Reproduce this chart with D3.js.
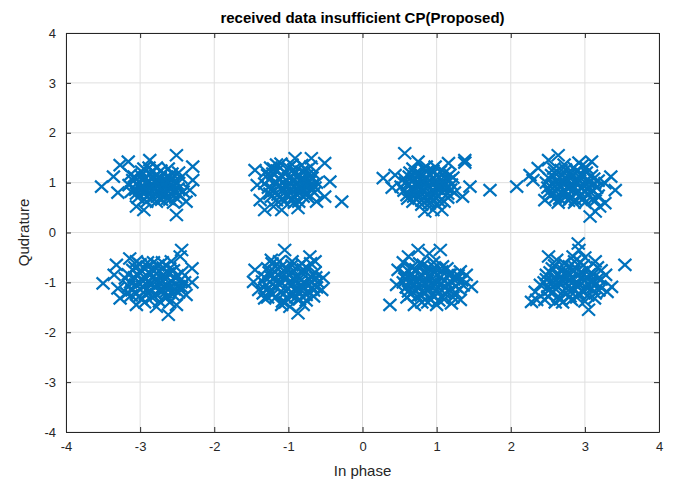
<!DOCTYPE html>
<html>
<head>
<meta charset="utf-8">
<script src="https://cdn.jsdelivr.net/npm/d3@7"></script>
<style>
  body { margin: 0; background: #fff; }
  svg { font-family: "Liberation Sans", Arial, sans-serif; }
</style>
</head>
<body>
<svg width="681" height="482"></svg>
<script>
// tick values and labels
var xTicks = [-4, -3, -2, -1, 0, 1, 2, 3, 4]
var yTicks = [-4, -3, -2, -1, 0, 1, 2, 3, 4]
var titleText = 'received data insufficient CP(Proposed)'
var xLabel = 'In phase'
var yLabel = 'Qudrature'

// received symbols, one array per constellation point
var symTopLL = [[-3.15,0.95],[-3.08,1.12],[-3.05,0.78],[-2.98,1.22],[-2.95,0.66],[-2.92,0.98],[-2.88,1.30],[-2.85,0.85],[-2.82,1.10],[-2.78,0.62],[-2.75,0.95],[-2.72,1.24],[-2.68,0.75],[-2.65,1.05],[-2.60,0.88],[-2.57,1.18],[-2.52,0.70],[-2.50,0.98],[-2.45,1.10],[-2.42,0.82],[-3.00,0.90],[-2.90,0.72],[-2.80,1.02],[-2.70,0.86],[-2.62,1.28],[-3.10,1.05],[-2.86,1.18],[-2.55,0.60],[-2.96,1.05],[-2.76,0.80],[-2.66,0.96],[-2.84,0.92],
  [-3.06,0.86],[-3.02,1.02],[-3.03,0.70],[-2.99,1.14],[-2.97,0.80],[-2.94,0.90],[-2.93,1.10],[-2.91,0.62],[-2.89,1.04],[-2.87,0.78],[-2.86,0.96],[-2.83,1.24],[-2.83,0.70],[-2.81,0.86],[-2.79,1.14],[-2.77,1.00],[-2.77,0.72],[-2.74,0.88],[-2.73,1.10],[-2.71,0.66],[-2.69,1.18],[-2.69,0.96],[-2.67,0.82],[-2.64,1.12],[-2.63,0.68],[-2.61,1.00],[-2.59,0.78],[-2.58,1.08],[-2.56,0.92],[-2.54,0.82],[-2.53,1.04],[-2.49,0.88],[-2.47,0.76],[-2.95,1.28],[-2.78,1.30],[-3.12,0.82],[-3.13,1.16],[-2.48,1.20],[-2.60,0.66],[-2.90,0.84],
  [-3.52,0.92],[-2.51,1.55],[-2.29,1.05],[-2.51,0.35],[-3.05,0.52],[-3.27,1.35],[-3.16,1.42],[-2.87,1.45],[-2.33,0.85],[-2.38,0.62],[-3.36,1.12],[-2.29,1.32],[-3.30,0.80],[-2.95,0.45]]
var symTopL = [[-1.32,0.98],[-1.28,1.15],[-1.25,0.78],[-1.20,1.28],[-1.16,0.65],[-1.12,0.95],[-1.08,1.12],[-1.05,0.80],[-1.00,1.30],[-0.98,0.98],[-0.95,0.68],[-0.92,1.18],[-0.88,0.88],[-0.85,1.05],[-0.80,0.72],[-0.76,1.25],[-0.72,0.94],[-0.68,1.10],[-0.65,0.80],[-0.62,1.00],[-1.18,1.02],[-1.02,0.90],[-0.90,0.78],[-0.82,1.35],[-1.10,1.38],[-0.70,1.32],[-1.22,0.88],[-0.96,1.12],[-0.86,0.62],[-1.30,1.22],[-0.78,0.95],
  [-1.27,0.90],[-1.26,1.06],[-1.23,0.72],[-1.21,1.18],[-1.19,0.84],[-1.17,0.98],[-1.15,1.24],[-1.14,0.76],[-1.12,1.08],[-1.10,0.88],[-1.08,0.68],[-1.07,1.00],[-1.04,1.20],[-1.03,0.94],[-1.01,0.74],[-0.99,1.10],[-0.97,0.86],[-0.94,1.02],[-0.93,1.26],[-0.91,0.70],[-0.89,0.96],[-0.87,1.14],[-0.86,0.80],[-0.83,0.92],[-0.82,1.22],[-0.80,0.86],[-0.78,1.06],[-0.76,0.78],[-0.74,1.16],[-0.73,0.70],[-0.71,1.02],[-0.69,0.86],[-0.67,0.96],[-0.66,1.18],[-0.64,0.90],[-1.16,1.36],[-0.95,1.36],[-1.24,1.30],[-0.92,0.60],[-1.06,0.62],
  [-0.28,0.62],[-0.51,1.39],[-0.44,1.02],[-0.51,0.72],[-1.32,0.45],[-1.09,0.45],[-0.87,0.49],[-1.45,1.25],[-1.38,0.65],[-0.69,1.49],[-0.91,1.49],[-0.62,0.62],[-1.42,0.95],[-1.20,0.52]]
var symTopR = [[0.52,0.92],[0.56,1.08],[0.60,0.75],[0.64,1.20],[0.68,0.62],[0.72,0.95],[0.75,1.12],[0.78,0.80],[0.82,1.28],[0.85,0.98],[0.88,0.66],[0.92,1.15],[0.95,0.86],[0.98,1.04],[1.02,0.72],[1.05,1.22],[1.08,0.92],[1.12,1.08],[1.15,0.78],[1.20,0.96],[0.70,0.85],[0.90,0.58],[1.00,0.88],[0.80,1.02],[1.10,0.62],[0.62,0.98],[0.86,1.32],[1.18,1.16],[0.94,0.76],[0.76,0.70],
  [0.56,0.84],[0.58,1.00],[0.61,0.68],[0.63,1.12],[0.65,0.88],[0.67,1.02],[0.69,0.72],[0.71,1.18],[0.73,0.80],[0.74,1.02],[0.77,0.92],[0.79,1.16],[0.80,0.64],[0.82,0.86],[0.84,1.06],[0.86,0.76],[0.87,1.22],[0.89,0.92],[0.91,1.04],[0.93,0.70],[0.95,1.24],[0.96,0.96],[0.99,0.78],[1.00,1.14],[1.02,0.94],[1.04,0.62],[1.06,1.06],[1.07,0.82],[1.10,1.00],[1.11,1.20],[1.13,0.90],[1.15,0.70],[1.17,1.04],[1.19,0.86],[1.22,1.10],[0.68,1.28],[0.98,1.32],[1.00,0.56],[0.80,0.56],[1.24,0.80],
  [0.57,1.59],[0.28,1.09],[1.38,1.45],[1.38,1.40],[1.72,0.85],[1.45,0.92],[0.44,1.15],[0.84,0.42],[1.07,0.45],[1.16,1.39],[0.75,1.42],[0.40,0.90],[1.35,0.72],[0.95,0.45]]
var symTopRR = [[2.48,1.00],[2.52,0.82],[2.55,1.15],[2.60,0.70],[2.64,0.98],[2.68,1.25],[2.72,0.85],[2.75,1.08],[2.78,0.64],[2.82,0.94],[2.85,1.30],[2.88,0.78],[2.92,1.12],[2.95,0.90],[2.98,0.68],[3.02,1.20],[3.05,1.00],[3.08,0.80],[3.12,1.08],[3.16,0.90],[2.70,1.05],[2.80,1.18],[2.90,1.00],[3.00,0.84],[2.62,0.88],[2.86,0.60],[3.10,0.66],[2.58,1.28],[2.96,1.34],[2.76,0.74],
  [2.50,0.90],[2.52,1.08],[2.54,0.74],[2.57,0.96],[2.59,1.20],[2.61,0.82],[2.63,1.06],[2.66,0.68],[2.66,0.92],[2.69,1.14],[2.71,0.78],[2.72,0.98],[2.74,1.26],[2.77,0.88],[2.78,1.04],[2.80,0.70],[2.82,1.12],[2.84,0.86],[2.85,1.02],[2.87,0.66],[2.89,1.22],[2.91,0.84],[2.93,1.04],[2.94,0.74],[2.97,1.16],[2.99,0.94],[3.00,0.60],[3.03,1.06],[3.04,0.76],[3.06,0.90],[3.09,1.14],[3.11,0.84],[3.13,0.98],[3.14,0.64],[3.18,1.04],[2.72,1.36],[2.92,1.40],[2.64,0.60],[3.18,0.74],[3.02,1.30],
  [2.08,0.92],[2.26,1.15],[2.64,1.55],[3.09,1.42],[3.41,0.85],[3.27,0.59],[3.14,0.42],[3.07,0.32],[2.51,1.45],[2.37,1.29],[2.46,0.65],[3.27,0.99],[3.35,1.12],[2.30,1.05],[3.20,0.52]]
var symBotLL = [[-3.20,-0.92],[-3.15,-1.08],[-3.10,-0.75],[-3.05,-1.22],[-3.00,-0.64],[-2.96,-0.98],[-2.92,-1.15],[-2.88,-0.80],[-2.84,-1.30],[-2.80,-0.95],[-2.76,-0.66],[-2.72,-1.12],[-2.68,-0.85],[-2.64,-1.05],[-2.60,-0.72],[-2.56,-1.24],[-2.52,-0.92],[-2.48,-1.08],[-2.44,-0.80],[-2.40,-1.00],[-3.08,-0.90],[-2.98,-1.34],[-2.86,-1.02],[-2.74,-1.38],[-2.70,-0.60],[-2.90,-0.68],[-3.12,-1.26],[-2.58,-0.58],[-2.78,-0.82],[-2.66,-1.20],
  [-3.16,-0.84],[-3.13,-1.00],[-3.11,-1.16],[-3.07,-0.70],[-3.06,-1.04],[-3.03,-0.86],[-3.01,-1.28],[-2.99,-0.76],[-2.97,-1.08],[-2.94,-0.90],[-2.93,-1.24],[-2.90,-0.60],[-2.89,-1.00],[-2.86,-1.18],[-2.84,-0.74],[-2.82,-0.88],[-2.81,-1.08],[-2.78,-1.24],[-2.77,-0.96],[-2.74,-0.78],[-2.73,-1.02],[-2.70,-1.18],[-2.69,-0.70],[-2.66,-0.94],[-2.64,-1.30],[-2.62,-0.82],[-2.61,-1.12],[-2.58,-0.98],[-2.55,-0.76],[-2.54,-1.14],[-2.50,-0.86],[-2.48,-1.20],[-2.46,-0.96],[-2.82,-0.60],[-2.94,-1.40],[-2.60,-1.40],[-3.18,-1.22],[-2.44,-1.10],[-3.05,-0.58],[-2.86,-0.84],
  [-2.44,-0.35],[-2.46,-0.48],[-3.50,-1.02],[-2.30,-0.72],[-2.62,-1.65],[-2.78,-1.49],[-3.05,-1.45],[-3.27,-1.32],[-2.38,-1.25],[-3.32,-0.65],[-3.14,-0.52],[-2.51,-1.45],[-3.35,-0.85],[-3.30,-1.12],[-2.30,-1.00]]
var symBotL = [[-1.35,-0.98],[-1.30,-1.15],[-1.26,-0.80],[-1.22,-1.25],[-1.18,-0.68],[-1.14,-1.02],[-1.10,-1.18],[-1.06,-0.85],[-1.02,-1.32],[-0.98,-0.98],[-0.95,-0.66],[-0.92,-1.14],[-0.88,-0.88],[-0.84,-1.06],[-0.80,-0.74],[-0.76,-1.25],[-0.72,-0.95],[-0.68,-1.10],[-0.64,-0.80],[-0.60,-1.00],[-1.20,-0.92],[-1.04,-1.40],[-0.90,-1.30],[-0.82,-0.62],[-1.12,-0.58],[-0.70,-0.62],[-1.28,-1.30],[-0.96,-0.80],[-0.86,-1.20],[-0.66,-1.28],
  [-1.32,-0.90],[-1.30,-1.06],[-1.28,-0.72],[-1.25,-1.18],[-1.24,-0.88],[-1.21,-1.04],[-1.19,-0.78],[-1.17,-1.30],[-1.16,-1.10],[-1.13,-0.86],[-1.11,-0.70],[-1.09,-1.02],[-1.07,-1.24],[-1.05,-0.94],[-1.03,-0.74],[-1.01,-1.12],[-0.99,-0.86],[-0.97,-1.26],[-0.94,-1.04],[-0.93,-0.76],[-0.91,-0.94],[-0.88,-1.16],[-0.87,-0.70],[-0.85,-1.34],[-0.83,-0.96],[-0.81,-1.12],[-0.79,-0.84],[-0.77,-1.02],[-0.74,-0.72],[-0.73,-1.18],[-0.70,-0.88],[-0.68,-1.00],[-0.66,-1.16],[-0.63,-0.90],[-0.62,-1.10],[-1.08,-1.38],[-0.95,-0.58],[-1.22,-0.62],[-0.76,-1.36],[-1.34,-1.22],
  [-1.05,-0.35],[-0.71,-0.48],[-0.64,-0.58],[-1.45,-0.75],[-1.47,-0.99],[-1.32,-1.32],[-1.09,-1.45],[-0.87,-1.62],[-0.98,-1.49],[-0.53,-0.91],[-1.23,-0.55],[-0.55,-1.15],[-1.40,-1.15],[-0.80,-1.45]]
var symBotR = [[0.55,-1.00],[0.58,-0.84],[0.62,-1.18],[0.66,-0.70],[0.70,-1.05],[0.74,-1.28],[0.78,-0.88],[0.82,-0.65],[0.85,-1.12],[0.88,-0.96],[0.92,-1.35],[0.95,-0.78],[0.98,-1.05],[1.02,-1.22],[1.05,-0.90],[1.08,-0.68],[1.12,-1.10],[1.16,-0.85],[1.20,-1.00],[1.25,-1.20],[1.28,-0.92],[1.32,-0.78],[0.68,-0.92],[0.80,-1.40],[0.96,-0.60],[1.10,-1.34],[0.60,-1.30],[1.36,-1.06],[0.86,-0.80],[1.00,-1.00],
  [0.57,-0.92],[0.59,-1.10],[0.61,-0.76],[0.64,-1.02],[0.65,-1.24],[0.67,-0.84],[0.70,-1.16],[0.72,-0.74],[0.73,-0.98],[0.76,-1.12],[0.77,-0.62],[0.79,-1.26],[0.80,-0.98],[0.83,-0.80],[0.84,-1.20],[0.86,-1.04],[0.89,-0.70],[0.90,-1.14],[0.91,-0.88],[0.94,-1.26],[0.95,-1.00],[0.97,-0.70],[1.00,-1.14],[1.01,-0.84],[1.03,-1.36],[1.06,-1.04],[1.07,-0.78],[1.10,-0.96],[1.11,-1.22],[1.14,-0.72],[1.15,-1.02],[1.18,-1.16],[1.19,-0.84],[1.22,-1.30],[1.23,-0.94],[1.26,-1.08],[1.29,-0.86],[1.31,-1.14],[1.34,-0.96],[0.88,-1.40],
  [0.37,-1.45],[0.75,-0.35],[1.05,-0.35],[0.48,-0.75],[0.46,-1.05],[1.32,-1.35],[1.47,-1.09],[0.62,-0.48],[0.90,-0.42],[0.55,-0.60],[1.40,-0.85],[0.70,-1.45],[1.00,-1.45],[1.20,-1.42]]
var symBotRR = [[2.45,-1.00],[2.48,-0.85],[2.52,-1.15],[2.56,-0.72],[2.60,-1.05],[2.64,-1.28],[2.68,-0.88],[2.72,-0.62],[2.75,-1.12],[2.78,-0.96],[2.82,-1.35],[2.85,-0.78],[2.88,-1.05],[2.92,-1.22],[2.95,-0.90],[2.98,-0.66],[3.02,-1.10],[3.06,-0.84],[3.10,-1.00],[3.14,-1.22],[3.18,-0.92],[3.22,-0.76],[2.58,-0.92],[2.70,-1.40],[2.86,-0.58],[3.00,-1.38],[2.50,-1.28],[3.20,-1.08],[2.76,-0.78],[2.90,-1.00],
  [2.48,-0.94],[2.50,-1.10],[2.53,-0.80],[2.55,-1.22],[2.57,-1.00],[2.59,-0.66],[2.61,-1.14],[2.63,-0.86],[2.65,-1.02],[2.67,-1.34],[2.69,-0.74],[2.71,-0.98],[2.73,-1.22],[2.74,-0.86],[2.77,-1.08],[2.79,-0.68],[2.80,-1.28],[2.83,-0.92],[2.84,-1.14],[2.87,-0.70],[2.89,-1.30],[2.90,-0.86],[2.93,-1.06],[2.94,-0.60],[2.96,-0.80],[2.98,-1.20],[3.00,-0.96],[3.03,-0.74],[3.04,-1.26],[3.07,-0.98],[3.09,-1.12],[3.11,-0.84],[3.13,-1.32],[3.15,-1.02],[3.17,-0.70],[3.19,-1.16],[3.22,-0.94],[2.84,-0.48],[2.60,-1.40],[3.00,-0.50],
  [2.91,-0.22],[3.54,-0.65],[2.51,-0.48],[2.33,-1.19],[2.35,-1.35],[2.46,-1.35],[2.28,-1.39],[3.05,-1.55],[3.36,-1.09],[3.30,-1.19],[3.14,-0.58],[2.40,-1.05],[2.62,-0.55],[3.28,-0.85],[2.92,-0.35]]

var points = [].concat(symTopLL, symTopL, symTopR, symTopRR, symBotLL, symBotL, symBotR, symBotRR)

var svg = d3.select('svg')
var plotLeft = 66, plotRight = 659, plotTop = 33, plotBottom = 432
var axisColor = '#262626'

var x = d3.scaleLinear().domain([-4, 4]).range([plotLeft, plotRight])
var y = d3.scaleLinear().domain([-4, 4]).range([plotBottom, plotTop])

// grid
var grid = svg.append('g').attr('class', 'grid')
grid.selectAll('line.gx').data(xTicks).enter().append('line')
	.attr('x1', function(d) {return x(d)}).attr('x2', function(d) {return x(d)})
	.attr('y1', plotTop).attr('y2', plotBottom)
	.attr('stroke', '#dfdfdf').attr('stroke-width', 1)
grid.selectAll('line.gy').data(yTicks).enter().append('line')
	.attr('y1', function(d) {return y(d)}).attr('y2', function(d) {return y(d)})
	.attr('x1', plotLeft).attr('x2', plotRight)
	.attr('stroke', '#dfdfdf').attr('stroke-width', 1)

// x markers
var markerColor = '#0072BD'
var mx = 6.5, my = 6
svg.append('g').attr('class', 'points')
	.selectAll('path').data(points).enter().append('path')
	.attr('d', function(d) {
		var cx = x(d[0]), cy = y(d[1])
		return 'M' + (cx - mx) + ',' + (cy - my) + 'L' + (cx + mx) + ',' + (cy + my) +
			'M' + (cx - mx) + ',' + (cy + my) + 'L' + (cx + mx) + ',' + (cy - my)
	})
	.attr('stroke', markerColor).attr('stroke-width', 2.2).attr('fill', 'none')

// axes with inward ticks on all four sides
var plainFormat = function(d) {return String(d)}
function styleAxis(g) {
	g.select('.domain').attr('stroke', axisColor)
	g.selectAll('.tick line').attr('stroke', axisColor)
	g.selectAll('.tick text').attr('fill', axisColor).style('font-size', '13px')
		.style('font-family', '"Liberation Sans", Arial, sans-serif')
}
svg.append('g').attr('transform', 'translate(0,' + plotBottom + ')')
	.call(d3.axisBottom(x).tickValues(xTicks).tickFormat(plainFormat).tickSizeInner(-5).tickSizeOuter(0).tickPadding(10))
	.call(styleAxis)
svg.append('g').attr('transform', 'translate(0,' + plotTop + ')')
	.call(d3.axisTop(x).tickValues(xTicks).tickSizeInner(-5).tickSizeOuter(0).tickFormat(''))
	.call(styleAxis)
svg.append('g').attr('transform', 'translate(' + plotLeft + ',0)')
	.call(d3.axisLeft(y).tickValues(yTicks).tickFormat(plainFormat).tickSizeInner(-5).tickSizeOuter(0).tickPadding(10))
	.call(styleAxis)
svg.append('g').attr('transform', 'translate(' + plotRight + ',0)')
	.call(d3.axisRight(y).tickValues(yTicks).tickSizeInner(-5).tickSizeOuter(0).tickFormat(''))
	.call(styleAxis)

// labels
svg.append('text').attr('x', (plotLeft + plotRight) / 2).attr('y', 23)
	.attr('text-anchor', 'middle').style('font-size', '15px').style('font-weight', 'bold')
	.attr('fill', '#000').text(titleText)
svg.append('text').attr('x', (plotLeft + plotRight) / 2).attr('y', 476)
	.attr('text-anchor', 'middle').style('font-size', '15px')
	.attr('fill', axisColor).text(xLabel)
svg.append('text').attr('transform', 'translate(29,' + (plotTop + plotBottom) / 2 + ') rotate(-90)')
	.attr('text-anchor', 'middle').style('font-size', '15px')
	.attr('fill', axisColor).text(yLabel)
</script>
</body>
</html>
